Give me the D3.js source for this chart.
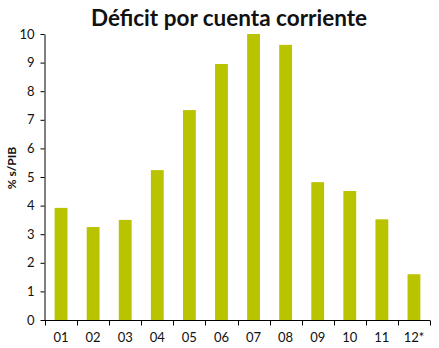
<!DOCTYPE html>
<html>
<head>
<meta charset="utf-8">
<script src="https://cdn.jsdelivr.net/npm/d3@7"></script>
<style>
  html, body { margin: 0; padding: 0; background: #fff; }
  svg { display: block; }
  text { font-family: Lato, "Open Sans", sans-serif; fill: #111; }
</style>
</head>
<body>
<svg id="chart" width="439" height="348"></svg>
<script>
// Current account deficit, % of GDP, by year
const years = ["01", "02", "03", "04", "05", "06", "07", "08", "09", "10", "11", "12*"];
const deficit = [3.92, 3.25, 3.5, 5.24, 7.34, 8.95, 10.0, 9.62, 4.82, 4.51, 3.52, 1.6];
const yTicks = [0, 1, 2, 3, 4, 5, 6, 7, 8, 9, 10];

const svg = d3.select("#chart");
const margin = { left: 44, right: 9, top: 34, bottom: 28 };
const W = 439, H = 348;

const x = d3.scaleBand()
  .domain(years)
  .range([margin.left + 1, W - margin.right])
  .paddingInner(0.6)
  .paddingOuter(0.3);

const y = d3.scaleLinear()
  .domain([0, 10])
  .range([H - margin.bottom, margin.top]);

// Bars
svg.append("g")
  .selectAll("rect")
  .data(deficit)
  .join("rect")
  .attr("x", (d, i) => x(years[i]))
  .attr("y", d => y(d))
  .attr("width", x.bandwidth())
  .attr("height", d => y(0) - y(d))
  .attr("fill", "#bac300");

// Y axis
const yAxis = svg.append("g")
  .attr("transform", `translate(${margin.left + 0.5},0)`)
  .call(d3.axisLeft(y).tickValues(yTicks).tickSize(4).tickPadding(6).tickSizeOuter(0));
yAxis.select(".domain").attr("stroke", "#000");
yAxis.selectAll(".tick line").attr("stroke", "#000");
yAxis.selectAll(".tick text").attr("font-size", 13).attr("font-family", "Lato, sans-serif").attr("fill", "#111");

// X axis with ticks at category boundaries
const xAxisG = svg.append("g")
  .attr("transform", `translate(0,${y(0) + 0.5})`);
xAxisG.append("line")
  .attr("x1", margin.left).attr("x2", W - margin.right)
  .attr("stroke", "#000");
const bounds = d3.range(years.length + 1).map(i => margin.left + 1 + i * (W - margin.right - margin.left - 1) / years.length);
xAxisG.selectAll("line.tk")
  .data(bounds)
  .join("line")
  .attr("class", "tk")
  .attr("x1", d => Math.round(d) + 0.5).attr("x2", d => Math.round(d) + 0.5)
  .attr("y1", 0).attr("y2", 5)
  .attr("stroke", "#000");
xAxisG.selectAll("text")
  .data(years)
  .join("text")
  .attr("x", d => x(d) + x.bandwidth() / 2)
  .attr("y", 21)
  .attr("text-anchor", "middle")
  .attr("font-size", 13)
  .text(d => d);

// Title
svg.append("text")
  .attr("x", 229)
  .attr("y", 26)
  .attr("text-anchor", "middle")
  .attr("font-size", 22.5)
  .attr("font-weight", "bold")
  .text("Déficit por cuenta corriente");

// Y axis label
svg.append("text")
  .attr("transform", `translate(16,168) rotate(-90)`)
  .attr("text-anchor", "middle")
  .attr("font-size", 12)
  .attr("font-weight", "bold")
  .text("% s/PIB");
</script>
</body>
</html>
